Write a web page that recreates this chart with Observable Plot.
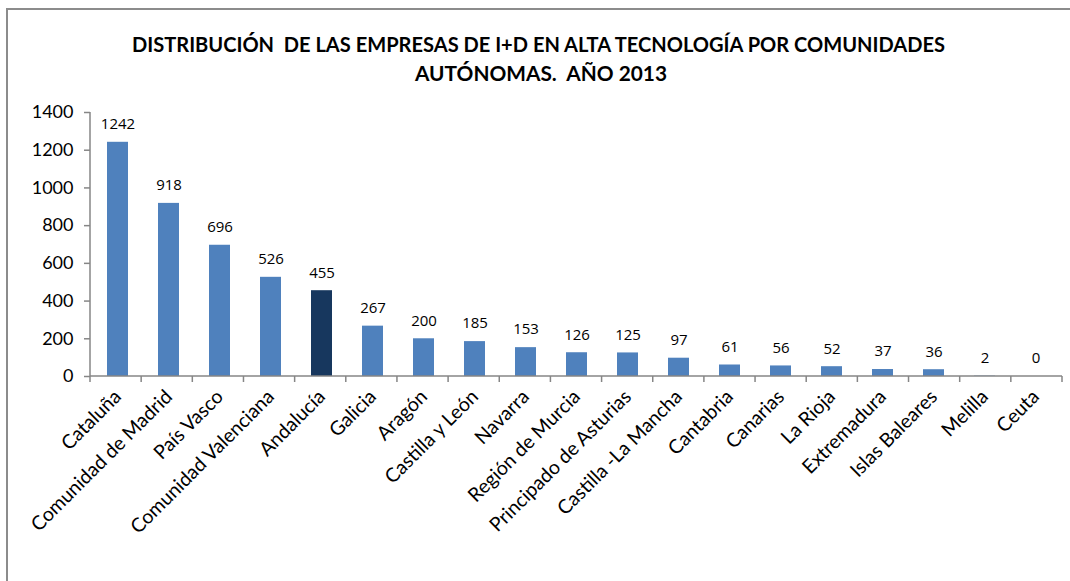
<!DOCTYPE html>
<html>
<head>
<meta charset="utf-8">
<script src="https://cdn.jsdelivr.net/npm/d3@7"></script>
<script src="https://cdn.jsdelivr.net/npm/@observablehq/plot@0.6"></script>
<style>
  html, body { margin: 0; padding: 0; background: #fff; }
  #wrap { position: relative; width: 1070px; height: 581px; overflow: hidden; background: #fff; }
  #frame { position: absolute; left: 6px; top: 8px; width: 1100px; height: 620px; border: 2px solid #8c8c8c; box-sizing: border-box; pointer-events: none; }
  #title { position: relative; height: 95px; font-family: Lato, "Open Sans", sans-serif; font-weight: 700; color: #000; }
  #title .line { position: absolute; white-space: pre; font-size: 21px; line-height: 24px; transform-origin: 0 0; }
  #chart svg { display: block; }
</style>
</head>
<body>
<div id="wrap">
  <div id="title">
    <span class="line" id="t1">DISTRIBUCIÓN  DE LAS EMPRESAS DE I+D EN ALTA TECNOLOGÍA POR COMUNIDADES</span>
    <span class="line" id="t2">AUTÓNOMAS.  AÑO 2013</span>
  </div>
  <div id="chart"></div>
  <div id="frame"></div>
</div>
<script>
const categories = [
  "Cataluña", "Comunidad de Madrid", "País Vasco", "Comunidad Valenciana", "Andalucía",
  "Galicia", "Aragón", "Castilla y León", "Navarra", "Región de Murcia",
  "Principado de Asturias", "Castilla -La Mancha", "Cantabria", "Canarias", "La Rioja",
  "Extremadura", "Islas Baleares", "Melilla", "Ceuta"
];
const values = [1242, 918, 696, 526, 455, 267, 200, 185, 153, 126, 125, 97, 61, 56, 52, 37, 36, 2, 0];
const highlighted = ["Andalucía"];
const yTicks = [0, 200, 400, 600, 800, 1000, 1200, 1400];

const data = categories.map((c, i) => ({region: c, value: values[i]}));

const axisGray = "#868686";

// Excel-like axis lines and category-boundary tick marks
function excelAxes(index, scales, vals, dims) {
  const {marginLeft: ml, marginRight: mr, width: w} = dims;
  const y0 = scales.y(yTicks[0]);
  const yTop = scales.y(yTicks[yTicks.length - 1]);
  const n = categories.length;
  const step = (w - ml - mr) / n;
  const g = d3.create("svg:g").attr("stroke", axisGray).attr("stroke-width", 1.5).attr("fill", "none");
  g.append("line").attr("x1", ml).attr("x2", ml).attr("y1", yTop).attr("y2", y0);
  g.append("line").attr("x1", ml).attr("x2", w - mr).attr("y1", y0).attr("y2", y0);
  for (let i = 0; i <= n; i++) {
    const x = ml + i * step;
    g.append("line").attr("x1", x).attr("x2", x).attr("y1", y0).attr("y2", y0 + 6);
  }
  return g.node();
}

const chart = Plot.plot({
  width: 1070,
  height: 486,
  marginLeft: 90,
  marginRight: 8,
  marginTop: 17,
  marginBottom: 205,
  style: {fontFamily: "Lato, sans-serif", color: "#000", background: "transparent", overflow: "visible"},
  x: {domain: categories, paddingInner: 0.59, paddingOuter: 0.295, axis: null},
  y: {domain: [0, 1400], axis: null},
  marks: [
    Plot.barY(data.filter(d => !highlighted.includes(d.region)), {x: "region", y: "value", fill: "#4F81BD"}),
    Plot.barY(data.filter(d => highlighted.includes(d.region)), {x: "region", y: "value", fill: "#17375E"}),
    Plot.text(data, {x: "region", y: "value", text: d => String(d.value), dy: -18,
      fontFamily: "'Open Sans', sans-serif", fontSize: 15, fill: "#000"}),
    Plot.axisY({ticks: yTicks, tickSize: 6, tickPadding: 11, stroke: axisGray, strokeWidth: 1.5,
      fill: "#000", fontSize: 18, label: null, tickFormat: d => String(d)}),
    Plot.axisX({tickRotate: -45, tickSize: 0, tickPadding: 17, fill: "#000", fontSize: 19.5, label: null}),
    excelAxes
  ]
});
document.getElementById("chart").appendChild(chart);

// fit title lines to the reference extents
function place(id, left, top, width) {
  const el = document.getElementById(id);
  el.style.left = left + "px";
  el.style.top = top + "px";
  const w = el.getBoundingClientRect().width;
  el.style.transform = `scaleX(${width / w})`;
}
place("t1", 132, 32, 813);
place("t2", 415, 61, 252);
</script>
</body>
</html>
